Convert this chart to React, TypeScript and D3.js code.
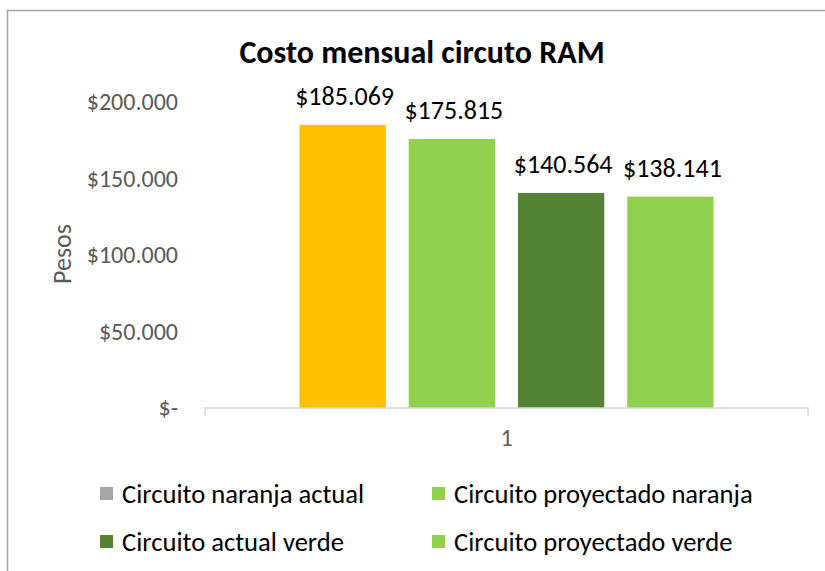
import { useEffect, useRef } from 'react';
import * as d3 from 'd3';

const categories = ['1'];
const seriesNames = [
  'Circuito naranja actual',
  'Circuito proyectado naranja',
  'Circuito actual verde',
  'Circuito proyectado verde',
];
const seriesValues = [185069, 175815, 140564, 138141];
const barColors = ['#FFC000', '#92D050', '#548235', '#92D050'];
const legendColors = ['#A5A5A5', '#92D050', '#548235', '#92D050'];
const yTicks = [0, 50000, 100000, 150000, 200000];

const FONT = 'Carlito, Calibri, Lato, sans-serif';

const fmt = (v: number) => {
  if (v === 0) return '$-';
  return '$' + d3.format(',')(v).replace(/,/g, '.');
};

const App = () => {
  const svgRef = useRef<SVGSVGElement | null>(null);

  useEffect(() => {
    if (!svgRef.current) return;
    const svg = d3.select(svgRef.current);
    svg.selectAll('*').remove();

    const width = 825;
    const height = 571;

    // chart frame (only top/left edges visible)
    svg.append('path')
      .attr('d', `M7.5,${height + 5} V10.5 H${width + 5}`)
      .attr('fill', 'none')
      .attr('stroke', '#a3a3a3')
      .attr('stroke-width', 1.5);

    const left = 205;
    const right = 808;
    const baseY = 408;

    const y = d3.scaleLinear().domain([0, 200000]).range([baseY, 102]);

    const x0 = d3.scaleBand().domain(categories).range([left, right])
      .paddingInner(0).paddingOuter(0.228);
    const x1 = d3.scaleBand().domain(seriesNames).range([0, x0.bandwidth()])
      .paddingInner(0.21).paddingOuter(0);

    // title
    svg.append('text')
      .attr('x', 422)
      .attr('y', 63)
      .attr('text-anchor', 'middle')
      .attr('font-family', FONT)
      .attr('font-weight', 'bold')
      .attr('font-size', 32)
      .attr('fill', '#000')
      .text('Costo mensual circuto RAM');

    // y tick labels
    svg.append('g')
      .selectAll('text')
      .data(yTicks)
      .enter()
      .append('text')
      .attr('x', 178)
      .attr('y', d => y(d))
      .attr('dy', '0.35em')
      .attr('text-anchor', 'end')
      .attr('font-family', FONT)
      .attr('font-size', 24)
      .attr('fill', '#595959')
      .text(d => fmt(d));

    // y axis title
    svg.append('text')
      .attr('transform', `translate(71, 254) rotate(-90)`)
      .attr('text-anchor', 'middle')
      .attr('font-family', FONT)
      .attr('font-size', 26)
      .attr('fill', '#595959')
      .text('Pesos');

    // bars
    const groups = svg.append('g')
      .selectAll('g')
      .data(categories)
      .enter()
      .append('g')
      .attr('transform', d => `translate(${x0(d)},0)`);

    groups.selectAll('rect')
      .data(() => seriesValues.map((v, i) => ({ v, i })))
      .enter()
      .append('rect')
      .attr('x', d => x1(seriesNames[d.i]) as number)
      .attr('y', d => y(d.v))
      .attr('width', x1.bandwidth())
      .attr('height', d => baseY - y(d.v))
      .attr('fill', d => barColors[d.i]);

    groups.selectAll('text.label')
      .data(() => seriesValues.map((v, i) => ({ v, i })))
      .enter()
      .append('text')
      .attr('class', 'label')
      .attr('x', d => (x1(seriesNames[d.i]) as number) + x1.bandwidth() / 2 + 2)
      .attr('y', d => y(d.v) - 20)
      .attr('text-anchor', 'middle')
      .attr('font-family', FONT)
      .attr('font-size', 26)
      .attr('fill', '#000')
      .text(d => fmt(d.v));

    // x axis line with end ticks
    svg.append('path')
      .attr('d', `M${left},${baseY + 8} V${baseY} H${right} V${baseY + 8}`)
      .attr('fill', 'none')
      .attr('stroke', '#d9d9d9')
      .attr('stroke-width', 1.5);

    svg.append('g')
      .selectAll('text')
      .data(categories)
      .enter()
      .append('text')
      .attr('x', d => (x0(d) as number) + x0.bandwidth() / 2)
      .attr('y', 438)
      .attr('dy', '0.35em')
      .attr('text-anchor', 'middle')
      .attr('font-family', FONT)
      .attr('font-size', 24)
      .attr('fill', '#595959')
      .text(d => d);

    // legend
    const legendX = [100, 432];
    const legendY = [494, 542];
    const items = svg.append('g')
      .selectAll('g')
      .data(seriesNames)
      .enter()
      .append('g')
      .attr('transform', (d, i) => `translate(${legendX[i % 2]},${legendY[Math.floor(i / 2)]})`);

    items.append('rect')
      .attr('x', 0)
      .attr('y', -7)
      .attr('width', 13)
      .attr('height', 13)
      .attr('fill', (d, i) => legendColors[i]);

    items.append('text')
      .attr('x', 22)
      .attr('y', 0)
      .attr('dy', '0.35em')
      .attr('font-family', FONT)
      .attr('font-size', 26.6)
      .attr('fill', '#000')
      .text(d => d);
  }, []);

  return (
    <svg ref={svgRef} width={825} height={571} style={{ position: 'absolute', left: 0, top: 0 }} />
  );
};

export default App;
